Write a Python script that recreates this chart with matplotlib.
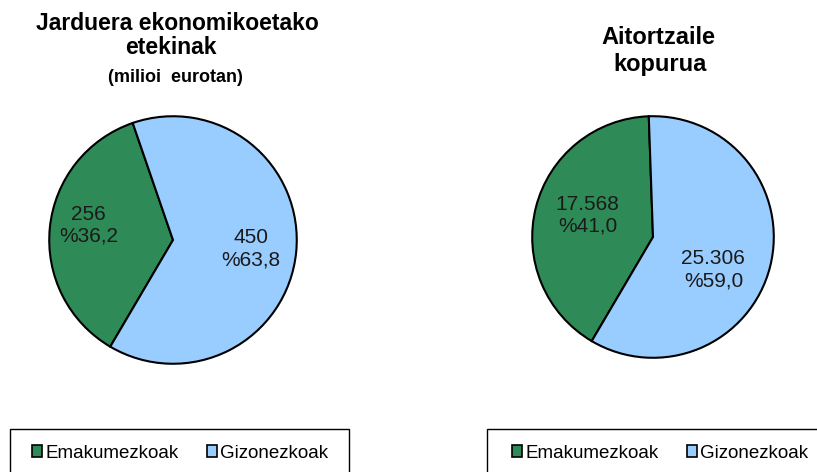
import matplotlib.pyplot as plt
from matplotlib.patches import Rectangle, Patch

plt.rcParams['font.family'] = ['Liberation Sans', 'DejaVu Sans']

categories = ['Emakumezkoak', 'Gizonezkoak']
colors = ['#2E8B57', '#99CCFF']

income = [256, 450]          # milioi eurotan
income_pct = [36.2, 63.8]
declarants = [17568, 25306]
declarants_pct = [41.0, 59.0]


def fmt_num(v):
    return f"{v:,}".replace(',', '.')


def fmt_pct(p):
    return f"%{p:.1f}".replace('.', ',')


fig = plt.figure(figsize=(8.17, 4.72), dpi=100)

# left pie
ax1 = fig.add_axes([48/817, 1-365/472, 250/817, 250/472])
ax1.pie(income, colors=colors, startangle=109, counterclock=True,
        wedgeprops=dict(edgecolor='black', linewidth=1.5))
ax1.set_xlim(-1.01, 1.01); ax1.set_ylim(-1.01, 1.01)
ax1.set_aspect('equal')
lab_pos1 = [(-0.68, 0.12), (0.63, -0.07)]
for v, p, (x, y) in zip(income, income_pct, lab_pos1):
    ax1.text(x, y, f"{fmt_num(v)}\n{fmt_pct(p)}", ha='center', va='center',
             fontsize=15, linespacing=1.2, color='#1a1a1a')

# right pie
ax2 = fig.add_axes([531/817, 1-359/472, 244/817, 244/472])
ax2.pie(declarants, colors=colors, startangle=92, counterclock=True,
        wedgeprops=dict(edgecolor='black', linewidth=1.5))
ax2.set_xlim(-1.01, 1.01); ax2.set_ylim(-1.01, 1.01)
ax2.set_aspect('equal')
lab_pos2 = [(-0.54, 0.18), (0.50, -0.27)]
for v, p, (x, y) in zip(declarants, declarants_pct, lab_pos2):
    ax2.text(x, y, f"{fmt_num(v)}\n{fmt_pct(p)}", ha='center', va='center',
             fontsize=15, linespacing=1.2, color='#1a1a1a')

# titles
fig.text(177/817, 1-30/472, 'Jarduera ekonomikoetako', ha='center', va='baseline',
         fontsize=16.5, fontweight='bold')
fig.text(171/817, 1-54/472, 'etekinak', ha='center', va='baseline',
         fontsize=16.5, fontweight='bold')
fig.text(175/817, 1-82/472, '(milioi  eurotan)', ha='center', va='baseline',
         fontsize=13, fontweight='bold')
fig.text(658/817, 1-44/472, 'Aitortzaile', ha='center', va='baseline',
         fontsize=17, fontweight='bold')
fig.text(660/817, 1-71/472, 'kopurua', ha='center', va='baseline',
         fontsize=17, fontweight='bold')

# legends with boxes running off the figure
handles = [Patch(facecolor=c, edgecolor='black', linewidth=1.2) for c in colors]
for x0, xl in [(10, 32), (487, 512)]:
    fig.patches.append(Rectangle((x0/817, -0.05), 339/817, 0.05 + (472-429)/472,
                                 transform=fig.transFigure, facecolor='none',
                                 edgecolor='black', linewidth=1.0))
    fig.legend(handles, categories, loc='center left',
               bbox_to_anchor=(xl/817, 1-453/472), ncol=2, frameon=False,
               fontsize=13.5, handlelength=0.55, handleheight=0.55,
               handletextpad=0.15, columnspacing=1.5, borderpad=0,
               borderaxespad=0)

fig.savefig('out.png', dpi=100)
